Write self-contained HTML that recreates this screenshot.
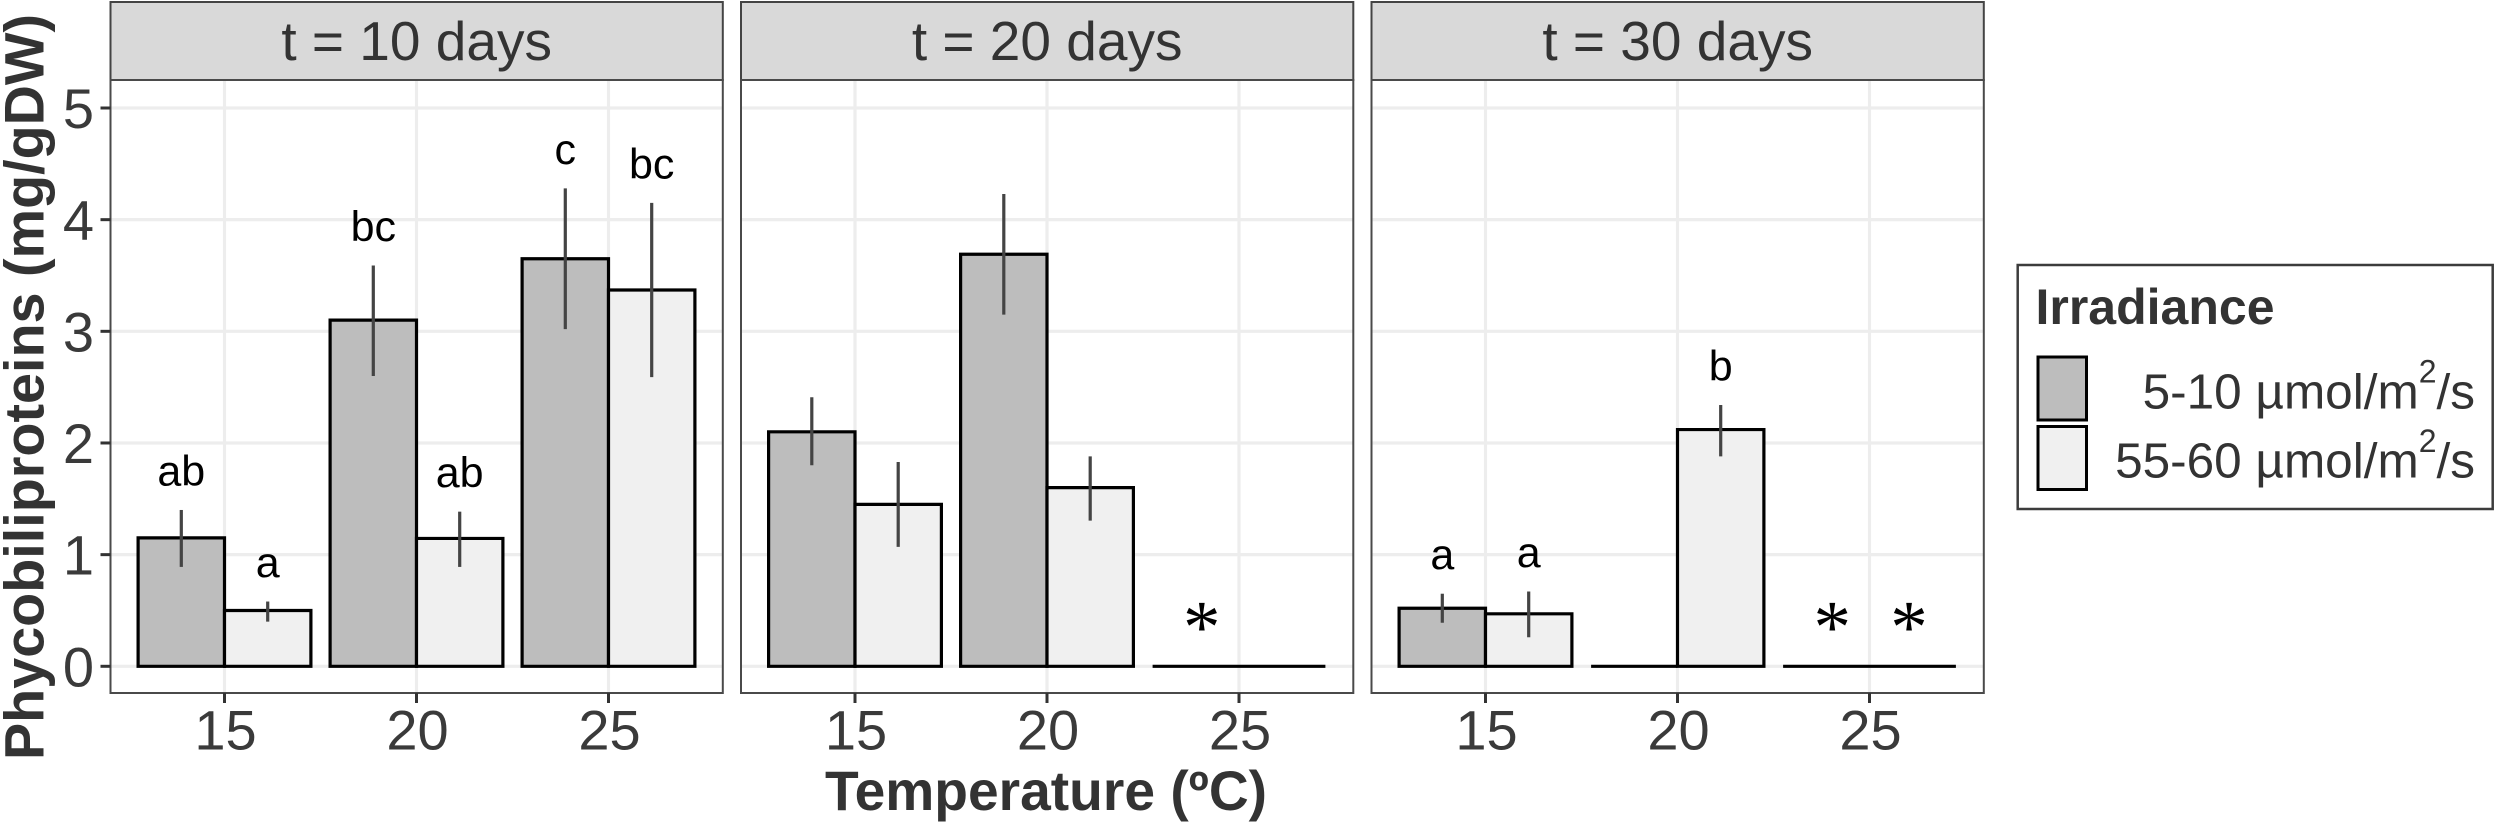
<!DOCTYPE html>
<html lang="en">
<head>
<meta charset="utf-8">
<title>Phycobiliproteins by temperature and irradiance</title>
<style>
html,body{margin:0;padding:0;background:#fff;width:2500px;height:822px;overflow:hidden}
svg{display:block}
text{font-family:"Liberation Sans",sans-serif}
</style>
</head>
<body>
<svg id="chart" xmlns="http://www.w3.org/2000/svg" width="2500" height="822" viewBox="0 0 2500 822">
  <text transform="translate(43.5,387) rotate(-90) scale(0.995,1)" text-anchor="middle" font-size="56" font-weight="700" fill="#333">Phycobiliproteins (mg/gDW)</text>
  <text transform="translate(1046,810) scale(0.985,1)" text-anchor="middle" font-size="56" font-weight="700" fill="#333">Temperature (ºC)</text>
  <g>
    <rect x="2017.7" y="265" width="475" height="244" fill="#fff" stroke="#3c3c3c" stroke-width="2.5"/>
    <text x="2035.5" y="324" font-size="50" font-weight="700" fill="#333">Irradiance</text>
    <rect x="2038" y="357" width="48.5" height="63" fill="#bdbdbd" stroke="#000" stroke-width="3"/>
    <rect x="2038" y="426.5" width="48.5" height="63" fill="#f0f0f0" stroke="#000" stroke-width="3"/>
    <text x="2475" y="408.3" text-anchor="end" font-size="49.5" fill="#333">5-10 µmol/m<tspan font-size="32" dy="-25.6">2</tspan><tspan dy="25.6">/s</tspan></text>
    <text x="2475" y="477.7" text-anchor="end" font-size="49.5" fill="#333">55-60 µmol/m<tspan font-size="32" dy="-25.6">2</tspan><tspan dy="25.6">/s</tspan></text>
  </g>
</svg>
<script>
const panelTitles = ["t = 10 days", "t = 20 days", "t = 30 days"];
const categories = ["15", "20", "25"];
const yTicks = [0, 1, 2, 3, 4, 5];

const lowMeans  = [[1.15, 3.10, 3.65], [2.10, 3.69, 0], [0.52, 0, 0]];
const lowUpper  = [[1.40, 3.59, 4.28], [2.41, 4.23, null], [0.65, null, null]];
const lowLower  = [[0.89, 2.60, 3.02], [1.80, 3.15, null], [0.39, null, null]];
const lowLabels = [["ab", "bc", "c"], ["", "", "*"], ["a", "", "*"]];

const highMeans  = [[0.50, 1.145, 3.37], [1.45, 1.60, 0], [0.47, 2.12, 0]];
const highUpper  = [[0.58, 1.385, 4.15], [1.83, 1.88, null], [0.67, 2.34, null]];
const highLower  = [[0.40, 0.89, 2.59], [1.07, 1.305, null], [0.26, 1.88, null]];
const highLabels = [["a", "ab", "bc"], ["", "", ""], ["a", "b", "*"]];

const NS = "http://www.w3.org/2000/svg";
const svg = document.getElementById("chart");
const PANEL_LEFT = [110.5, 741, 1371.5];
const PANEL_W = 612.3;
const STRIP_TOP = 2;
const PANEL_TOP = 80;
const PANEL_BOTTOM = 693;

function yScale(v) { return 666.3 - 111.66 * v; }
function xScale(panel, cat) { return PANEL_LEFT[panel] + 114 + cat * 192; }
const BAR_W = 192 * 0.45;

function make(tag, attrs, parent) {
  const el = document.createElementNS(NS, tag);
  for (const k in attrs) el.setAttribute(k, attrs[k]);
  parent.appendChild(el);
  return el;
}

function drawSeries(group, p, means, offset, seriesName) {
  categories.forEach(function (cat, c) {
    const cx = xScale(p, c) + offset;
    const top = yScale(means[p][c]);
    const base = yScale(0);
    const l = cx - BAR_W / 2;
    const r = cx + BAR_W / 2;
    const d = "M" + l + " " + base + "L" + l + " " + top + "L" + r + " " + top + "L" + r + " " + base + "Z";
    const bar = make("path", {d: d, fill: seriesName === "low" ? "#bdbdbd" : "#f0f0f0",
      stroke: "#000", "stroke-width": 3.2, "stroke-linejoin": "miter"}, group);
    
    
  });
}

function drawAnnotations(group, p, means, upper, lower, labels, offset, seriesName, starShift) {
  categories.forEach(function (cat, c) {
    const cx = xScale(p, c) + offset;
    if (upper[p][c] !== null) {
      const err = make("line", {x1: cx, x2: cx, y1: yScale(upper[p][c]), y2: yScale(lower[p][c]),
        stroke: "#444", "stroke-width": 3.2}, group);
      
      
    }
    const lab = labels[p][c];
    if (lab === "*") {
      const star = make("text", {x: cx + starShift, y: yScale(means[p][c]) - 14.5, "text-anchor": "middle",
        "font-size": 75, fill: "#000", style: 'font-family:"Liberation Serif",serif'}, group);
      star.textContent = lab;
      
      
    } else if (lab) {
      const t = make("text", {x: cx, y: yScale(upper[p][c]) - 24.6, "text-anchor": "middle",
        "font-size": 43, fill: "#000"}, group);
      t.textContent = lab;
      
      
    }
  });
}

panelTitles.forEach(function (title, p) {
  const left = PANEL_LEFT[p];
  const g = make("g", {}, svg);
  
  

  const strip = make("rect", {x: left, y: STRIP_TOP, width: PANEL_W, height: PANEL_TOP - STRIP_TOP,
    fill: "#d9d9d9", stroke: "#444", "stroke-width": 2}, g);
  
  

  const stripText = make("text", {x: left + PANEL_W / 2, y: 60, "text-anchor": "middle", "font-size": 55, fill: "#333"}, g);
  stripText.textContent = title;
  
  

  yTicks.forEach(function (v) {
    const gl = make("line", {x1: left, x2: left + PANEL_W, y1: yScale(v), y2: yScale(v), stroke: "#ededed", "stroke-width": 3.2}, g);
    
    
  });
  categories.forEach(function (cat, c) {
    const gl = make("line", {x1: xScale(p, c), x2: xScale(p, c), y1: PANEL_TOP, y2: PANEL_BOTTOM, stroke: "#ededed", "stroke-width": 3.2}, g);
    
    
  });

  drawSeries(g, p, lowMeans, -BAR_W / 2, "low");
  drawSeries(g, p, highMeans, BAR_W / 2, "high");
  drawAnnotations(g, p, lowMeans, lowUpper, lowLower, lowLabels, -BAR_W / 2, "low", 6);
  drawAnnotations(g, p, highMeans, highUpper, highLower, highLabels, BAR_W / 2, "high", -3.7);

  const border = make("rect", {x: left, y: PANEL_TOP, width: PANEL_W, height: PANEL_BOTTOM - PANEL_TOP,
    fill: "none", stroke: "#4a4a4a", "stroke-width": 2}, g);
  
  

  categories.forEach(function (cat, c) {
    const x = xScale(p, c);
    const tick = make("line", {x1: x, x2: x, y1: PANEL_BOTTOM, y2: PANEL_BOTTOM + 10, stroke: "#333", "stroke-width": 3}, g);
    
    
    const lab = make("text", {x: x + 1, y: 749.5, "text-anchor": "middle", "font-size": 56, fill: "#3a3a3a"}, g);
    lab.textContent = cat;
    
    
  });

  if (p === 0) {
    yTicks.forEach(function (v) {
      const y = yScale(v);
      const tick = make("line", {x1: left - 10, x2: left, y1: y, y2: y, stroke: "#333", "stroke-width": 3}, g);
      
      
      const lab = make("text", {x: 94, y: y + 20, "text-anchor": "end", "font-size": 56, fill: "#3a3a3a"}, g);
      lab.textContent = String(v);
      
      
    });
  }
});
</script>
</body>
</html>
